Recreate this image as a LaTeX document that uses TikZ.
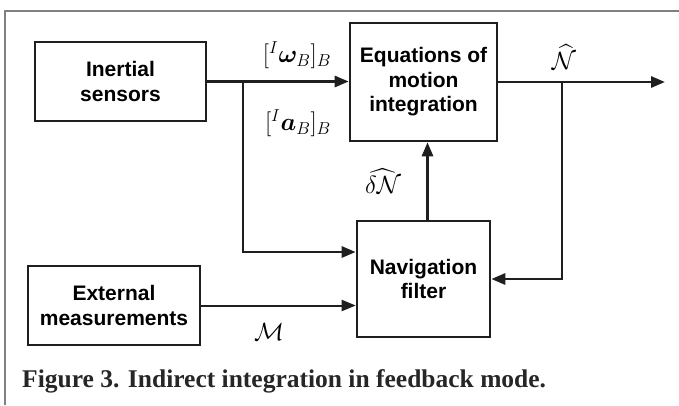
\documentclass[tikz,border=0pt]{standalone}
\usepackage{amsmath,bm}
\usepackage{fontspec}
\setmainfont{Liberation Serif}
\setsansfont{Liberation Sans}
\usetikzlibrary{arrows.meta,positioning}

\begin{document}
\begin{tikzpicture}[x=1pt,y=-1pt,>={Triangle[length=14pt,width=11pt]}]
  \tikzstyle{blockB}=[rectangle,draw=black!88,line width=2.6pt,align=center,inner sep=0pt,font=\sffamily\bfseries\fontsize{21}{24.5}\selectfont]
  \tikzstyle{sigL}=[inner sep=0pt,font=\fontsize{23}{26}\selectfont]
  \tikzstyle{flow}=[->,line width=2.8pt,draw=black!88]
  \useasboundingbox (0,0) rectangle (679,405);
  \draw[gray,line width=1.5pt] (5,405) -- (5,11) -- (679,11);

  % Blocks
  \node[blockB, minimum width=171pt, minimum height=79pt]  (ins) at (120.5,81.5) {Inertial\\sensors};
  \node[blockB, minimum width=147pt, minimum height=118pt] (eqm) at (423.5,82)   {Equations of\\motion\\integration};
  \node[blockB, minimum width=133pt, minimum height=116pt] (nav) at (423.5,279)  {Navigation\\filter};
  \node[blockB, minimum width=172pt, minimum height=79pt]  (ext) at (114,305.5)  {External\\measurements};

  % Junctions and free ends
  \coordinate (jIns) at (243,81.5);
  \coordinate (jOut) at (562,82);
  \coordinate (out)  at (665,82);

  % Connectors
  \draw[flow] (ins.east) -- (ins.east -| eqm.west);
  \draw[flow] (jIns) |- ([yshift=27pt]nav.west);
  \draw[flow, line width=2pt] (ext.east) -- (ext.east -| nav.west);
  \draw[flow] (eqm.east) -- (out);
  \draw[flow] (jOut) |- (nav.east);
  \draw[flow] ([xshift=4pt]nav.north) -- ([xshift=4pt]eqm.south);

  % Signal labels
  \node[sigL] (wLab) at (297,55)  {$[{}^{I}\bm{\omega}_{B}]_{B}$};
  \node[sigL] (aLab) at (298,123) {$[{}^{I}\bm{a}_{B}]_{B}$};
  \node[sigL] (nLab) at (564,57)  {$\widehat{\mathcal{N}}$};
  \node[sigL] (dLab) at (383,181) {$\widehat{\delta\mathcal{N}}$};
  \node[sigL] (mLab) at (269,332) {$\mathcal{M}$};

  % Caption
  \node[anchor=base west, inner sep=0pt, font=\bfseries\fontsize{25.5}{28}\selectfont, text=black!85] (cap) at (22,387)
    {Figure 3. Indirect integration in feedback mode.};
\end{tikzpicture}
\end{document}
